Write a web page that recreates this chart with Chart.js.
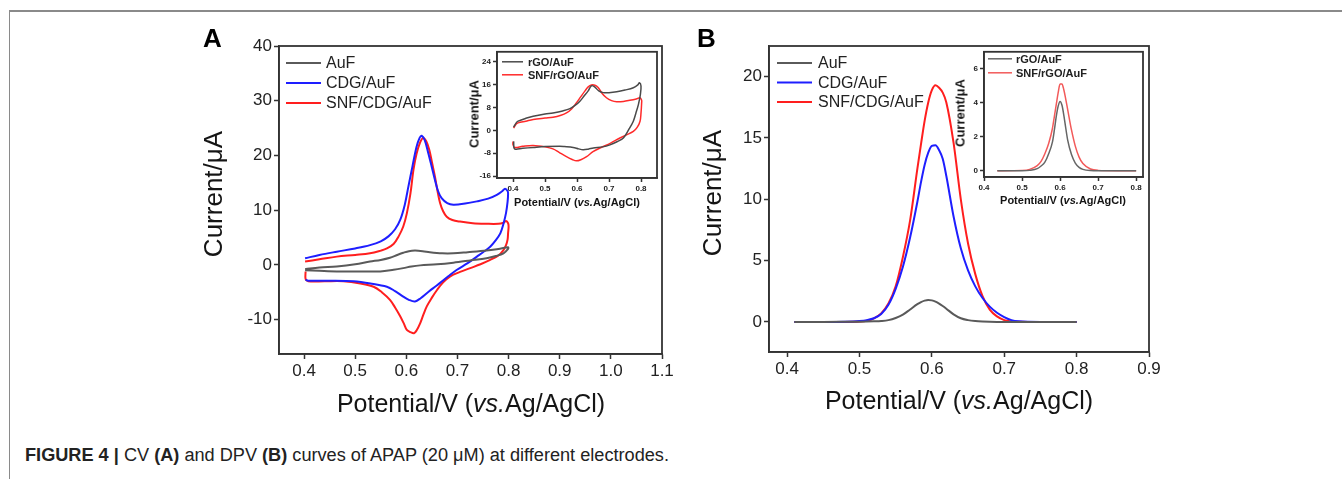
<!DOCTYPE html>
<html>
<head>
<meta charset="utf-8">
<script src="https://cdn.jsdelivr.net/npm/chart.js@4.4.0/dist/chart.umd.min.js"></script>
<style>
  body { margin: 0; background: #fff; font-family: 'Liberation Sans', Arial, sans-serif; }
  #page { position: relative; width: 1342px; height: 479px; overflow: hidden; background: #fff; }
  canvas { position: absolute; }
  .frameTop { position: absolute; left: 9px; top: 10px; width: 1333px; border-top: 2px solid #8a8a8a; }
  .frameLeft { position: absolute; left: 9px; top: 10px; height: 469px; border-left: 1.5px solid #8a8a8a; }
  .t { position: absolute; white-space: nowrap; color: #151515; transform: translate(-50%, -50%); line-height: 1; }
  .ty { transform: translate(-50%, -50%) rotate(-90deg); }
  .big { font-size: 25px; }
  .bigy { font-size: 26px; }
  .small { font-size: 11px; font-weight: bold; }
  .smally { font-size: 13px; font-weight: bold; }
  .panel { position: absolute; font-size: 26px; font-weight: bold; line-height: 26px; color: #000; }
  #caption { position: absolute; left: 25px; top: 446px; font-size: 18px; line-height: 18px; color: #222;
             white-space: nowrap; transform-origin: 0 0; }
</style>
</head>
<body>
<div id="page">
  <div class="frameTop"></div>
  <div class="frameLeft"></div>

  <canvas id="cvMain" width="490" height="400" style="left:190px;top:20px;width:490px;height:400px"></canvas>
  <canvas id="cvInset" width="210" height="170" style="left:455px;top:45px;width:210px;height:170px"></canvas>
  <canvas id="dpvMain" width="480" height="400" style="left:690px;top:20px;width:480px;height:400px"></canvas>
  <canvas id="dpvInset" width="200" height="170" style="left:950px;top:45px;width:200px;height:170px"></canvas>

  <div class="panel" style="left:203px;top:25px">A</div>
  <div class="panel" style="left:697px;top:25px">B</div>

  <div class="t bigy ty" style="left:213px;top:194px">Current/μA</div>
  <div class="t big" style="left:471px;top:403px">Potential/V (<i>vs.</i>Ag/AgCl)</div>
  <div class="t smally ty" style="left:474px;top:114px">Current/μA</div>
  <div class="t small" style="left:577px;top:202px">Potential/V (<i>vs.</i>Ag/AgCl)</div>

  <div class="t bigy ty" style="left:712px;top:193px">Current/μA</div>
  <div class="t big" style="left:959px;top:400px">Potential/V (<i>vs.</i>Ag/AgCl)</div>
  <div class="t smally ty" style="left:960px;top:113px">Current/μA</div>
  <div class="t small" style="left:1063px;top:200px">Potential/V (<i>vs.</i>Ag/AgCl)</div>

  <div id="caption"><b>FIGURE 4 |</b> CV <b>(A)</b> and DPV <b>(B)</b> curves of APAP (20 μM) at different electrodes.</div>
</div>

<script>
// ---- Panel A: CV, main plot (forward scan then reverse scan) ----
const cvLabels = ['AuF', 'CDG/AuF', 'SNF/CDG/AuF'];
const cvXTicks = [0.4, 0.5, 0.6, 0.7, 0.8, 0.9, 1.0, 1.1];
const cvYTicks = [-10, 0, 10, 20, 30, 40];

const aufX = [0.402,0.43,0.464,0.50,0.529,0.550,0.568,0.582,0.594,0.605,0.617,0.632,0.646,0.670,0.692,0.720,0.757,0.780,0.799,
              0.799,0.790,0.775,0.757,0.725,0.692,0.660,0.627,0.610,0.594,0.575,0.549,0.50,0.464,0.430,0.402];
const aufY = [-0.8,-0.5,-0.3,0.1,0.6,0.9,1.3,1.8,2.2,2.5,2.6,2.5,2.3,2.1,2.1,2.3,2.6,2.9,3.2,
              2.9,2.1,1.6,1.2,0.8,0.4,0.1,-0.1,-0.3,-0.6,-0.9,-1.2,-1.2,-1.2,-1.1,-1.0];

const cdgX = [0.402,0.43,0.464,0.50,0.529,0.55,0.565,0.578,0.588,0.597,0.604,0.612,0.620,0.626,0.630,0.636,0.643,0.650,0.656,0.662,
              0.669,0.680,0.692,0.715,0.738,0.760,0.777,0.788,0.793,0.798,0.799,0.798,0.795,0.790,0.784,0.775,0.764,0.750,0.738,
              0.720,0.699,0.682,0.666,0.652,0.640,0.628,0.617,0.605,0.594,0.578,0.562,0.53,0.497,0.45,0.408,0.403];
const cdgY = [1.2,1.8,2.4,3.0,3.6,4.3,5.2,6.5,8.2,11.0,14.3,18.0,21.6,23.2,23.6,22.8,20.4,17.8,15.5,13.5,
              12.2,11.3,11.0,11.2,11.6,12.1,12.8,13.5,13.9,13.5,13.0,11.5,9.5,7.5,5.8,4.5,3.3,2.3,1.5,
              0.3,-0.9,-2.1,-3.3,-4.3,-5.2,-6.1,-6.7,-6.4,-5.8,-4.8,-4.0,-3.4,-3.0,-2.9,-2.9,-2.7];

const snfX = [0.402,0.43,0.464,0.50,0.529,0.55,0.562,0.575,0.585,0.594,0.601,0.608,0.614,0.620,0.627,0.633,0.639,0.645,0.650,0.656,
              0.661,0.666,0.672,0.679,0.690,0.705,0.730,0.757,0.780,0.790,0.795,0.799,0.800,0.799,0.798,0.795,0.790,0.780,0.764,
              0.745,0.725,0.705,0.686,0.672,0.660,0.650,0.640,0.633,0.627,0.620,0.615,0.608,0.601,0.595,0.588,0.578,0.568,0.552,
              0.536,0.51,0.477,0.44,0.408,0.403,0.403];
const snfY = [0.6,1.0,1.5,1.8,2.1,2.6,3.0,3.8,5.2,7.0,9.4,13.0,17.4,20.3,22.4,23.2,22.6,21.0,18.8,16.1,
              13.5,11.3,9.8,8.8,8.2,7.9,7.6,7.5,7.5,7.7,8.0,7.6,7.0,5.8,4.6,3.6,2.7,1.7,0.9,
              0.1,-0.6,-1.3,-2.1,-3.2,-4.6,-6.0,-7.6,-9.2,-10.7,-12.0,-12.5,-12.3,-11.9,-10.7,-9.4,-7.8,-6.4,-5.0,
              -4.0,-3.4,-3.0,-3.0,-3.0,-2.6,-1.2];

// ---- Panel A inset ----
const cvInsetLabels = ['rGO/AuF', 'SNF/rGO/AuF'];
const cvInsetXTicks = [0.4, 0.5, 0.6, 0.7, 0.8];
const cvInsetYTicks = [-16, -8, 0, 8, 16, 24];

const rgoX = [0.402,0.41,0.416,0.44,0.463,0.50,0.525,0.555,0.578,0.595,0.609,0.622,0.635,0.645,0.655,0.668,0.682,0.70,0.724,0.75,
              0.776,0.790,0.795,0.800,0.798,0.792,0.784,0.776,0.762,0.745,0.725,0.703,0.680,0.651,0.635,0.619,0.605,0.588,0.560,
              0.546,0.50,0.463,0.43,0.405,0.402];
const rgoY = [1.1,2.6,3.2,4.2,4.9,5.7,6.1,6.8,7.6,8.8,10.2,12.0,13.8,15.6,15.2,13.8,13.2,13.2,13.5,14.1,
              14.9,15.9,16.7,15.5,12.5,9.1,6.0,3.2,0.3,-2.7,-4.0,-5.1,-5.8,-6.2,-6.6,-6.8,-6.5,-6.0,-5.7,
              -5.6,-5.7,-6.0,-6.3,-6.5,-3.9];

const snfRgoX = [0.402,0.41,0.416,0.44,0.463,0.50,0.525,0.55,0.567,0.583,0.598,0.612,0.625,0.635,0.645,0.656,0.666,0.678,0.692,0.708,
                 0.724,0.745,0.765,0.785,0.797,0.802,0.802,0.800,0.797,0.788,0.776,0.755,0.734,0.705,0.672,0.650,0.630,0.612,0.598,
                 0.585,0.567,0.545,0.525,0.50,0.463,0.43,0.405,0.400,0.400];
const snfRgoY = [0.8,2.2,2.6,3.2,3.8,4.3,4.6,5.3,6.1,7.5,9.6,11.8,13.8,15.2,15.9,15.8,15.0,13.0,11.4,10.4,
                 10.0,10.1,10.5,11.0,11.4,10.5,9.6,6.0,3.2,1.0,-0.4,-1.6,-2.7,-4.5,-6.2,-7.5,-9.2,-10.3,-10.7,
                 -10.2,-9.2,-7.8,-6.5,-5.8,-5.3,-5.6,-6.0,-5.0,-3.9];

// ---- Panel B: DPV, main plot ----
const dpvLabels = ['AuF', 'CDG/AuF', 'SNF/CDG/AuF'];
const dpvXTicks = [0.4, 0.5, 0.6, 0.7, 0.8, 0.9];
const dpvYTicks = [0, 5, 10, 15, 20];
const dpvX   = [0.41,0.45,0.48,0.50,0.51,0.52,0.53,0.54,0.55,0.56,0.57,0.58,0.585,0.59,0.595,0.60,0.605,0.61,0.615,0.62,
                0.63,0.64,0.65,0.66,0.67,0.68,0.69,0.70,0.71,0.72,0.75,0.80];
const dpvAuF = [0,0,0.01,0.02,0.03,0.05,0.08,0.15,0.32,0.60,1.02,1.45,1.62,1.74,1.80,1.76,1.66,1.50,1.30,1.08,
                0.62,0.30,0.15,0.07,0.03,0.01,0,0,0,0,0,0];
const dpvCdg = [0,0,0.02,0.08,0.15,0.30,0.65,1.4,2.7,4.5,6.9,9.8,11.4,12.8,13.8,14.35,14.4,14.0,13.3,11.9,
                8.6,6.0,4.2,2.9,1.95,1.25,0.75,0.4,0.15,0.05,0,0];
const dpvSnf = [0,0,0,0.03,0.10,0.30,0.70,1.5,2.9,5.3,8.3,12.5,14.5,16.4,17.9,18.9,19.3,19.1,18.7,17.9,
                14.6,10.0,6.4,3.9,2.1,1.0,0.45,0.15,0.05,0.02,0,0];

// ---- Panel B inset ----
const dpvInsetLabels = ['rGO/AuF', 'SNF/rGO/AuF'];
const dpvInsetXTicks = [0.4, 0.5, 0.6, 0.7, 0.8];
const dpvInsetYTicks = [0, 2, 4, 6];
const dpvInsetX = [0.435,0.50,0.52,0.54,0.55,0.56,0.57,0.58,0.585,0.59,0.595,0.60,0.605,0.61,0.615,0.62,0.63,0.64,0.65,0.66,
                   0.68,0.70,0.75,0.80];
const dpvRgo    = [0,0,0.02,0.12,0.28,0.50,1.0,1.7,2.4,3.2,3.8,4.08,3.85,3.25,2.5,1.8,0.95,0.45,0.2,0.08,
                   0.01,0,0,0];
const dpvSnfRgo = [0,0.02,0.08,0.3,0.55,1.0,1.6,2.5,3.2,3.9,4.6,5.1,5.1,4.75,4.2,3.6,2.4,1.45,0.8,0.42,
                   0.1,0.02,0,0];

const FONT = "'Liberation Sans', Arial, sans-serif";

function pts(xs, ys) {
    return xs.map((x, i) => ({ x: x, y: ys[i] }));
}

// frame around the plot area + legend drawn inside it
const boxPlugin = {
    id: 'boxPlugin',
    afterDatasetsDraw(chart, args, opts) {
        const { ctx, chartArea: a } = chart;
        ctx.save();
        ctx.strokeStyle = '#333';
        ctx.lineWidth = opts.frame || 1.5;
        ctx.strokeRect(a.left, a.top, a.right - a.left, a.bottom - a.top);
        // legend
        const lg = opts.legend;
        if (lg) {
            ctx.font = lg.font;
            ctx.textBaseline = 'middle';
            chart.data.datasets.forEach((ds, i) => {
                const y = a.top + lg.y + i * lg.dy;
                ctx.strokeStyle = ds.borderColor;
                ctx.lineWidth = ds.borderWidth;
                ctx.beginPath();
                ctx.moveTo(a.left + lg.x, y);
                ctx.lineTo(a.left + lg.x + lg.len, y);
                ctx.stroke();
                ctx.fillStyle = '#222';
                ctx.fillText(ds.label, a.left + lg.x + lg.len + lg.gap, y + 1);
            });
        }
        ctx.restore();
    }
};

function makeChart(id, cfg) {
    const axis = (ticks, min, max, size, fontSize, bold, isX) => ({
        type: 'linear',
        min: min,
        max: max,
        afterBuildTicks: s => { s.ticks = ticks.map(v => ({ value: v })); },
        afterFit: s => { if (isX) s.height = size; else s.width = size; },
        ticks: {
            color: '#222',
            padding: 2,
            font: { family: FONT, size: fontSize, weight: bold ? 'bold' : 'normal' },
            callback: v => cfg.fmt ? cfg.fmt(v, isX) : String(v)
        },
        grid: { drawOnChartArea: false, drawTicks: true, tickLength: cfg.tickLen, tickColor: '#333', tickWidth: 1.5 },
        border: { color: '#333', width: 1.5 }
    });

    return new Chart(document.getElementById(id), {
        type: 'scatter',
        data: { datasets: cfg.datasets },
        options: {
            responsive: false,
            animation: false,
            layout: { padding: cfg.padding },
            elements: { point: { radius: 0 } },
            plugins: {
                legend: { display: false },
                tooltip: { enabled: false },
                boxPlugin: { legend: cfg.legend, frame: cfg.frame }
            },
            scales: {
                x: axis(cfg.xTicks, cfg.xMin, cfg.xMax, cfg.xSize, cfg.fontSize, cfg.bold, true),
                y: axis(cfg.yTicks, cfg.yMin, cfg.yMax, cfg.ySize, cfg.fontSize, cfg.bold, false)
            }
        },
        plugins: [boxPlugin]
    });
}

const line = (label, xs, ys, color, width, mono) => ({
    label: label,
    data: pts(xs, ys),
    showLine: true,
    borderColor: color,
    backgroundColor: color,
    borderWidth: width,
    tension: mono ? 0 : 0.35,
    cubicInterpolationMode: mono ? 'monotone' : 'default',
    fill: false
});

const fmt1 = (v, isX) => isX ? v.toFixed(1) : String(v);

makeChart('cvMain', {
    datasets: [
        line(cvLabels[0], aufX, aufY, '#5a5a5a', 2),
        line(cvLabels[1], cdgX, cdgY, '#1e1eff', 2),
        line(cvLabels[2], snfX, snfY, '#ff1e1e', 2)
    ],
    xTicks: cvXTicks, yTicks: cvYTicks,
    xMin: 0.351, xMax: 1.1, yMin: -16.3, yMax: 40,
    xSize: 66, ySize: 89, padding: { top: 26, right: 18, left: 0, bottom: 0 },
    fontSize: 17, bold: false, tickLen: 5, frame: 1.8, fmt: fmt1,
    legend: { x: 7, y: 17, dy: 20, len: 35, gap: 5, font: "16px " + FONT }
});

makeChart('cvInset', {
    datasets: [
        line(cvInsetLabels[0], rgoX, rgoY, '#4a4a4a', 1.5),
        line(cvInsetLabels[1], snfRgoX, snfRgoY, '#ff2a2a', 1.5)
    ],
    xTicks: cvInsetXTicks, yTicks: cvInsetYTicks,
    xMin: 0.35, xMax: 0.85, yMin: -16.7, yMax: 27.5,
    xSize: 37, ySize: 42, padding: { top: 6, right: 8, left: 0, bottom: 0 },
    fontSize: 8, bold: true, tickLen: 4, frame: 1.8, fmt: fmt1,
    legend: { x: 5, y: 10, dy: 13, len: 21, gap: 5, font: "bold 11px " + FONT }
});

makeChart('dpvMain', {
    datasets: [
        line(dpvLabels[0], dpvX, dpvAuF, '#5a5a5a', 2, true),
        line(dpvLabels[1], dpvX, dpvCdg, '#1e1eff', 2, true),
        line(dpvLabels[2], dpvX, dpvSnf, '#ff1e1e', 2, true)
    ],
    xTicks: dpvXTicks, yTicks: dpvYTicks,
    xMin: 0.375, xMax: 0.9, yMin: -2.45, yMax: 22.5,
    xSize: 68, ySize: 79, padding: { top: 26, right: 21, left: 0, bottom: 0 },
    fontSize: 17, bold: false, tickLen: 5, frame: 1.8, fmt: fmt1,
    legend: { x: 8, y: 17, dy: 19.5, len: 35, gap: 6, font: "16px " + FONT }
});

makeChart('dpvInset', {
    datasets: [
        line(dpvInsetLabels[0], dpvInsetX, dpvRgo, '#666666', 1.5, true),
        line(dpvInsetLabels[1], dpvInsetX, dpvSnfRgo, '#f25a5a', 1.5, true)
    ],
    xTicks: dpvInsetXTicks, yTicks: dpvInsetYTicks,
    xMin: 0.4, xMax: 0.818, yMin: -0.37, yMax: 7,
    xSize: 38, ySize: 34, padding: { top: 6, right: 7, left: 0, bottom: 0 },
    fontSize: 8, bold: true, tickLen: 4, frame: 1.8, fmt: fmt1,
    legend: { x: 4, y: 7, dy: 14, len: 24, gap: 4, font: "bold 11px " + FONT }
});

// fit caption to the width it has in the figure
const cap = document.getElementById('caption');
const w = cap.getBoundingClientRect().width;
cap.style.transform = 'scaleX(' + (644 / w) + ')';
</script>
</body>
</html>
